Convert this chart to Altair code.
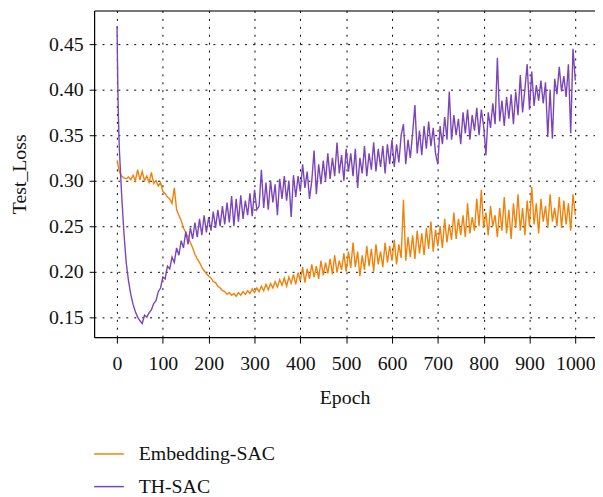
import altair as alt
import pandas as pd

SERIES = ["Embedding-SAC", "TH-SAC"]
COLORS = ["#F0820A", "#7A45B8"]
X_TICKS = [0, 100, 200, 300, 400, 500, 600, 700, 800, 900, 1000]
Y_TICKS = [0.15, 0.20, 0.25, 0.30, 0.35, 0.40, 0.45]

EPOCHS = [0, 1, 2, 3,
          5, 10, 15, 20, 25, 30, 35, 40, 45, 50,
          55, 60, 65, 70, 75, 80, 85, 90, 95, 100,
          105, 110, 115, 120, 125, 130, 135, 140, 145, 150,
          155, 160, 165, 170, 175, 180, 185, 190, 195, 200,
          205, 210, 215, 220, 225, 230, 235, 240, 245, 250,
          255, 260, 265, 270, 275, 280, 285, 290, 295, 300,
          305, 310, 315, 320, 325, 330, 335, 340, 345, 350,
          355, 360, 365, 370, 375, 380, 385, 390, 395, 400,
          405, 410, 415, 420, 425, 430, 435, 440, 445, 450,
          455, 460, 465, 470, 475, 480, 485, 490, 495, 500,
          505, 510, 515, 520, 525, 530, 535, 540, 545, 550,
          555, 560, 565, 570, 575, 580, 585, 590, 595, 600,
          605, 610, 615, 620, 625, 630, 635, 640, 645, 650,
          655, 660, 665, 670, 675, 680, 685, 690, 695, 700,
          705, 710, 715, 720, 725, 730, 735, 740, 745, 750,
          755, 760, 765, 770, 775, 780, 785, 790, 795, 800,
          805, 810, 815, 820, 825, 830, 835, 840, 845, 850,
          855, 860, 865, 870, 875, 880, 885, 890, 895, 900,
          905, 910, 915, 920, 925, 930, 935, 940, 945, 950,
          955, 960, 965, 970, 975, 980, 985, 990, 995, 1000]

EMBEDDING_SAC = [0.320, 0.321, 0.318, 0.315,
                 0.310, 0.305, 0.303, 0.302, 0.304, 0.301, 0.306, 0.300, 0.312, 0.301,
                 0.310, 0.300, 0.305, 0.298, 0.309, 0.297, 0.300, 0.294, 0.298, 0.288,
                 0.286, 0.282, 0.280, 0.275, 0.292, 0.268, 0.262, 0.256, 0.248, 0.243,
                 0.238, 0.232, 0.226, 0.219, 0.214, 0.210, 0.205, 0.201, 0.198, 0.195,
                 0.193, 0.189, 0.188, 0.184, 0.182, 0.179, 0.178, 0.175, 0.177, 0.174,
                 0.176, 0.173, 0.177, 0.174, 0.178, 0.175, 0.179, 0.176, 0.181, 0.177,
                 0.182, 0.178, 0.184, 0.179, 0.186, 0.180, 0.187, 0.182, 0.189, 0.183,
                 0.191, 0.185, 0.193, 0.184, 0.194, 0.187, 0.197, 0.186, 0.199, 0.190,
                 0.205, 0.188, 0.203, 0.192, 0.208, 0.194, 0.206, 0.192, 0.212, 0.196,
                 0.210, 0.198, 0.214, 0.197, 0.218, 0.199, 0.212, 0.202, 0.220, 0.200,
                 0.222, 0.204, 0.232, 0.205, 0.222, 0.195, 0.218, 0.202, 0.228, 0.206,
                 0.225, 0.200, 0.230, 0.208, 0.222, 0.205, 0.232, 0.210, 0.228, 0.212,
                 0.235, 0.208, 0.230, 0.215, 0.279, 0.212, 0.238, 0.216, 0.240, 0.214,
                 0.245, 0.220, 0.242, 0.218, 0.248, 0.225, 0.255, 0.222, 0.246, 0.228,
                 0.250, 0.226, 0.258, 0.232, 0.252, 0.235, 0.265, 0.236, 0.258, 0.240,
                 0.262, 0.238, 0.275, 0.242, 0.260, 0.245, 0.280, 0.250, 0.290, 0.248,
                 0.265, 0.240, 0.272, 0.250, 0.262, 0.238, 0.270, 0.245, 0.282, 0.242,
                 0.268, 0.236, 0.275, 0.248, 0.285, 0.245, 0.270, 0.240, 0.278, 0.250,
                 0.293, 0.252, 0.275, 0.242, 0.280, 0.255, 0.272, 0.248, 0.285, 0.255,
                 0.270, 0.250, 0.282, 0.248, 0.278, 0.252, 0.275, 0.245, 0.285, 0.262]

TH_SAC = [0.470, 0.430, 0.395, 0.370,
          0.335, 0.285, 0.243, 0.210, 0.190, 0.175, 0.164, 0.156, 0.150, 0.146,
          0.143, 0.152, 0.150, 0.155, 0.158, 0.165, 0.168, 0.178, 0.182, 0.194,
          0.192, 0.206, 0.203, 0.216, 0.210, 0.226, 0.218, 0.234, 0.226, 0.244,
          0.230, 0.248, 0.236, 0.254, 0.238, 0.258, 0.240, 0.262, 0.243, 0.260,
          0.245, 0.266, 0.248, 0.268, 0.250, 0.272, 0.252, 0.276, 0.254, 0.283,
          0.250, 0.280, 0.255, 0.284, 0.258, 0.278, 0.262, 0.286, 0.261, 0.290,
          0.268, 0.272, 0.312, 0.270, 0.298, 0.268, 0.300, 0.276, 0.296, 0.262,
          0.302, 0.280, 0.305, 0.278, 0.300, 0.260, 0.306, 0.282, 0.305, 0.288,
          0.318, 0.292, 0.310, 0.280, 0.300, 0.333, 0.285, 0.318, 0.296, 0.322,
          0.300, 0.330, 0.302, 0.325, 0.305, 0.342, 0.308, 0.328, 0.300, 0.335,
          0.310, 0.330, 0.305, 0.335, 0.292, 0.325, 0.308, 0.338, 0.305, 0.330,
          0.312, 0.342, 0.310, 0.335, 0.315, 0.338, 0.308, 0.340, 0.318, 0.345,
          0.315, 0.340, 0.320, 0.350, 0.362, 0.318, 0.345, 0.325, 0.352, 0.383,
          0.330, 0.355, 0.328, 0.360, 0.335, 0.365, 0.338, 0.358, 0.330, 0.318,
          0.360, 0.340, 0.370, 0.345, 0.398, 0.345, 0.372, 0.350, 0.368, 0.340,
          0.375, 0.352, 0.378, 0.345, 0.372, 0.355, 0.380, 0.350, 0.378, 0.360,
          0.328, 0.375, 0.358, 0.385, 0.362, 0.435, 0.365, 0.388, 0.360, 0.392,
          0.368, 0.395, 0.362, 0.398, 0.372, 0.416, 0.375, 0.400, 0.428, 0.378,
          0.420, 0.382, 0.405, 0.388, 0.410, 0.385, 0.408, 0.348, 0.400, 0.346,
          0.412, 0.395, 0.425, 0.398, 0.415, 0.392, 0.428, 0.352, 0.445, 0.410]

df = pd.concat([
    pd.DataFrame({"epoch": EPOCHS, "value": EMBEDDING_SAC, "series": SERIES[0]}),
    pd.DataFrame({"epoch": EPOCHS, "value": TH_SAC, "series": SERIES[1]}),
], ignore_index=True)

FONT = "Liberation Serif"
FS = 20
TXT = "#111111"
xscale = alt.Scale(domain=[-50, 1043], nice=False, zero=False)
yscale = alt.Scale(domain=[0.128, 0.487], nice=False, zero=False)

y_axis = alt.Axis(values=Y_TICKS, format=".2f", title="Test_Loss", grid=True,
                  gridDash=[2, 6], gridColor="#000000", gridWidth=1,
                  domainColor="#000000", domainWidth=1.2, tickColor="#000000",
                  tickSize=5, labelPadding=6, titlePadding=19,
                  labelFont=FONT, labelFontSize=FS, labelColor=TXT,
                  titleFont=FONT, titleFontSize=FS, titleFontWeight="normal",
                  titleColor=TXT)

lines = alt.Chart(df).mark_line(strokeWidth=1.4).encode(
    x=alt.X("epoch:Q", scale=xscale,
            axis=alt.Axis(values=X_TICKS, format="d", title="Epoch", grid=True,
                          gridDash=[2, 6], gridColor="#000000", gridWidth=1,
                          domainColor="#000000", domainWidth=1.2,
                          tickColor="#000000", tickSize=6, labelPadding=11,
                          titlePadding=14, labelFont=FONT, labelFontSize=FS,
                          labelColor=TXT, titleFont=FONT, titleFontSize=FS,
                          titleFontWeight="normal", titleColor=TXT)),
    y=alt.Y("value:Q", scale=yscale, axis=y_axis),
    color=alt.Color("series:N", scale=alt.Scale(domain=SERIES, range=COLORS),
                    legend=alt.Legend(orient="none", legendX=-1, legendY=432,
                                      direction="vertical", title=None,
                                      symbolType="stroke", symbolSize=900,
                                      symbolStrokeWidth=1.5, labelFont=FONT,
                                      labelFontSize=FS, labelColor=TXT,
                                      labelOffset=14, rowPadding=7, padding=0)),
)

frame = alt.Chart(df).mark_line(opacity=0).encode(
    x=alt.X("epoch:Q", scale=xscale,
            axis=alt.Axis(orient="top", labels=False, ticks=False, grid=False,
                          title="", domain=True, domainColor="#000000",
                          domainWidth=1.2)),
    y=alt.Y("value:Q", scale=yscale, axis=y_axis),
)

chart = alt.layer(lines, frame).resolve_axis(x="independent").properties(
    width=506, height=330,
    autosize=alt.AutoSizeParams(type="none"),
    padding={"left": 87, "top": 0, "right": 0, "bottom": 162},
).configure_view(strokeOpacity=0).configure(background="white")

chart.save("out.html", embed_options={"renderer": "svg", "actions": False})
